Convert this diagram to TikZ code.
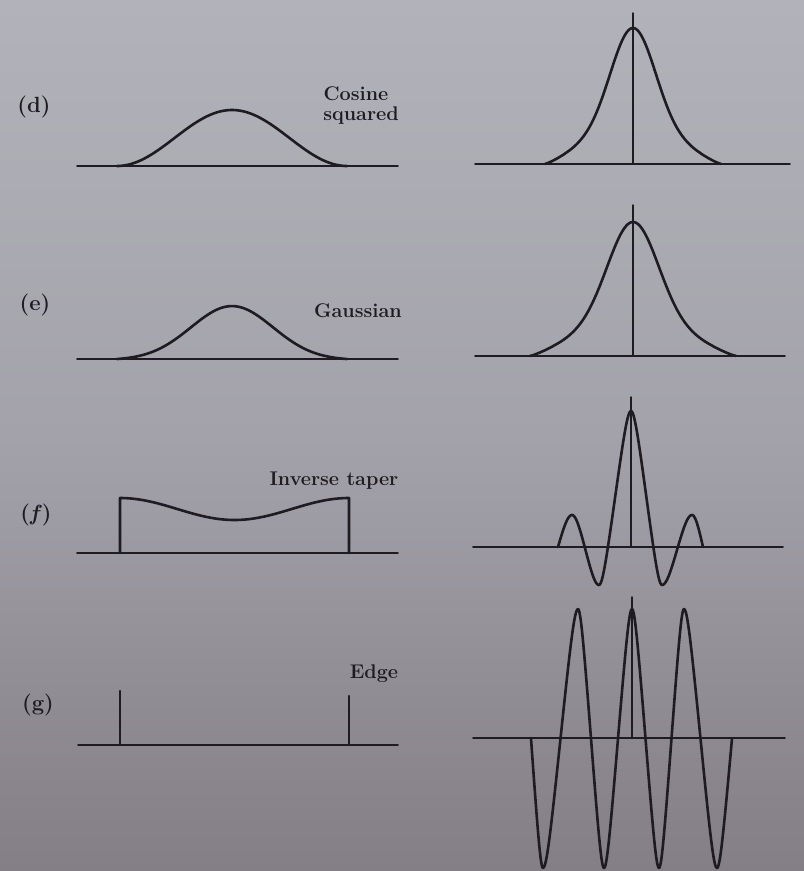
\documentclass[tikz,border=0pt]{standalone}
\usepackage{xcolor}
\definecolor{ink}{RGB}{30,28,34}
\definecolor{bgtop}{RGB}{178,179,186}
\definecolor{bgmid}{RGB}{163,162,170}
\definecolor{bgbot}{RGB}{132,126,134}
\begin{document}
\begin{tikzpicture}[x=1pt,y=-1pt,line cap=round,line join=round,
  curve/.style={ink,line width=2.6pt},
  axisline/.style={ink,line width=1.8pt},
  cline/.style={ink,line width=1.4pt},
  lab/.style={text=ink,font=\fontsize{19.8}{22}\selectfont\bfseries,inner sep=0pt,anchor=base},
  plab/.style={text=ink,font=\fontsize{22}{24}\selectfont\bfseries,inner sep=0pt,anchor=base}]
\useasboundingbox (0,0) rectangle (804,871);
\shade[top color=bgtop,bottom color=bgbot,middle color=bgmid] (0,0) rectangle (804,871);

% ---------- (d) ----------
\node[plab] (labD) at (34,112) {(d)};
\node[lab] (tCos) at (356,100) {Cosine};
\node[lab] (tSq) at (361,120) {squared};
\draw[axisline] (77,166) -- (398,166);
\draw[curve] plot[domain=117:347,samples=90] (\x,{166-56*cos((\x-232)/230*180)*cos((\x-232)/230*180)});
\draw[axisline] (475,164) -- (790,164);
\draw[cline] (633,13) -- (633,164);
\draw[curve] plot[domain=-88:88,samples=121] ({633+\x},{164-136*(0.75*exp(-(\x)*(\x)/968)+0.25*pow((1+cos((\x)/88*180))/2+0.0001,0.605))});

% ---------- (e) ----------
\node[plab] (labE) at (35,310) {(e)};
\node[lab] (tGau) at (358,317) {Gaussian};
\draw[axisline] (77,359) -- (398,359);
\draw[curve] plot[domain=117:347,samples=90] (\x,{359-54*(exp(-(\x-232)/58*(\x-232)/58)-0.0197)});
\draw[axisline] (475,356) -- (785,356);
\draw[cline] (633,205) -- (633,356);
\draw[curve] plot[domain=-103:103,samples=121] ({633+\x},{356-134*(0.75*exp(-(\x)/35.36*(\x)/35.36)+0.25*pow((1+cos((\x)/103*180))/2+0.0001,0.605))});

% ---------- (f) ----------
\node[plab] (labF) at (36,520) {(\textit{f})};
\node[lab] (tInv) at (334,485) {Inverse taper};
\draw[axisline] (77,553) -- (398,553);
\draw[curve] (120,553) -- (120,498) -- plot[domain=120:349,samples=70] (\x,{498+22*cos((\x-234.5)/229*180)*cos((\x-234.5)/229*180)}) -- (349,553);
\draw[axisline] (473,547) -- (783,547);
\draw[cline] (631,397) -- (631,547);
\draw[curve] (558,547)
  \foreach \p/\q/\r/\s/\a/\b/\k in {544/579/572/515/558/572/0.5, 572/515/599/585/572/599/0.6, 599/585/631/411/599/631/0.86, 631/411/662/585/631/662/0.86, 662/585/692/515/662/692/0.6, 692/515/714/579/692/703/0.5}
  { -- plot[domain=\a:\b,samples=40] (\x,{(\q+\s)/2+(\q-\s)/2*asin(\k*cos((\x-\p)/(\r-\p)*180))/asin(\k)}) };

% ---------- (g) ----------
\node[plab] (labG) at (38,710) {(g)};
\node[lab] (tEdge) at (374,678) {Edge};
\draw[axisline] (78,745) -- (398,745);
\draw[curve] (120,745) -- (120,691);
\draw[curve] (349,745) -- (349,696);
\draw[axisline] (473,738) -- (785,738);
\draw[cline] (632,597) -- (632,738);
\draw[curve] (531,738)
  \foreach \p/\q/\r/\s/\a/\b in {519/609/543/868/531/543, 543/868/578/609/543/578, 578/609/604/868/578/604, 604/868/632/609/604/632, 632/609/659/868/632/659, 659/868/684/609/659/684, 684/609/717/868/684/717, 717/868/747/609/717/732}
  { -- plot[domain=\a:\b,samples=40] (\x,{(\q+\s)/2+(\q-\s)/2*asin(0.88*cos((\x-\p)/(\r-\p)*180))/asin(0.88)}) };
\end{tikzpicture}
\end{document}
